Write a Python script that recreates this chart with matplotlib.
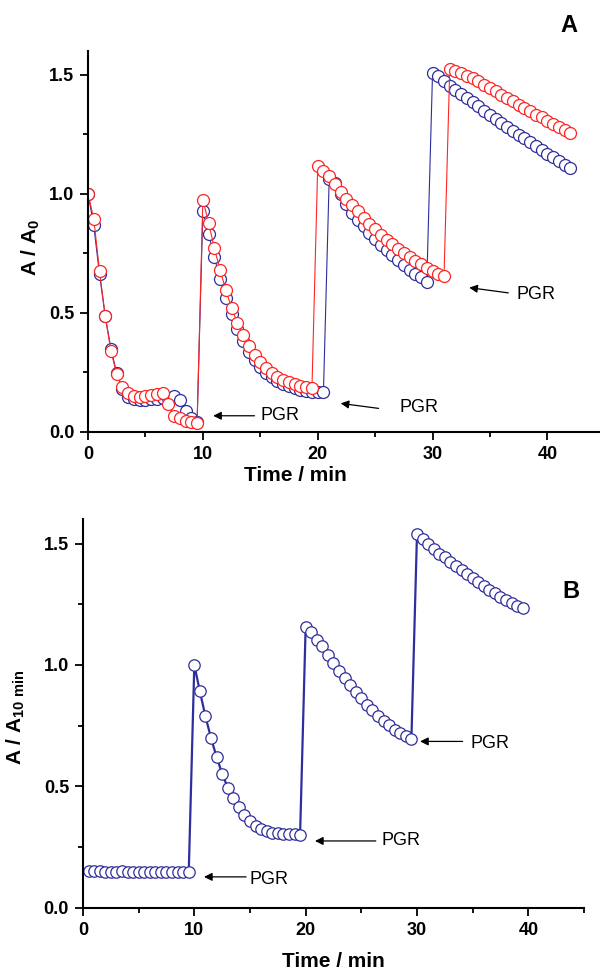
import matplotlib
matplotlib.use("Agg")
import matplotlib.pyplot as plt
from matplotlib.ticker import MultipleLocator, FormatStrFormatter

plt.rcParams['font.family'] = ['Liberation Sans', 'DejaVu Sans']
plt.rcParams['mathtext.fontset'] = 'custom'
plt.rcParams['mathtext.rm'] = 'Liberation Sans'
plt.rcParams['mathtext.bf'] = 'Liberation Sans:bold'
plt.rcParams['mathtext.it'] = 'Liberation Sans:italic'

# ---- panel A, red series ----
t_red = [0, 0.5, 1, 1.5, 2, 2.5, 3, 3.5, 4, 4.5, 5, 5.5, 6, 6.5, 7, 7.5, 8, 8.5, 9, 9.5,
         10, 10.5, 11, 11.5, 12, 12.5, 13, 13.5, 14, 14.5, 15, 15.5, 16, 16.5, 17, 17.5, 18, 18.5, 19, 19.5,
         20, 20.5, 21, 21.5, 22, 22.5, 23, 23.5, 24, 24.5, 25, 25.5, 26, 26.5, 27, 27.5, 28, 28.5,
         29, 29.5, 30, 30.5, 31,
         31.5, 32, 32.5, 33, 33.5, 34, 34.5, 35, 35.5, 36, 36.5, 37, 37.5, 38, 38.5, 39, 39.5,
         40, 40.5, 41, 41.5, 42]
a_red = [1.000, 0.894, 0.675, 0.485, 0.338, 0.242, 0.186, 0.161, 0.150, 0.147,
         0.150, 0.154, 0.158, 0.161, 0.115, 0.066, 0.056, 0.046, 0.042, 0.038,
         0.974, 0.878, 0.771, 0.680, 0.594, 0.521, 0.457, 0.405, 0.360, 0.324,
         0.293, 0.266, 0.247, 0.230, 0.217, 0.207, 0.200, 0.193, 0.186, 0.182,
         1.114, 1.094, 1.072, 1.041, 1.006, 0.978, 0.953, 0.925, 0.897, 0.873,
         0.850, 0.827, 0.806, 0.787, 0.767, 0.750, 0.733, 0.717, 0.703, 0.689,
         0.675, 0.664, 0.653,
         1.523, 1.516, 1.506, 1.495, 1.484, 1.471, 1.457, 1.443, 1.429, 1.415, 1.401,
         1.387, 1.373, 1.360, 1.345, 1.332, 1.320, 1.306, 1.293, 1.280, 1.268, 1.255]

# ---- panel A, blue series ----
t_blue = [0, 0.5, 1, 1.5, 2, 2.5, 3, 3.5, 4, 4.5, 5, 5.5, 6, 6.5, 7, 7.5, 8, 8.5, 9, 9.5,
          10, 10.5, 11, 11.5, 12, 12.5, 13, 13.5, 14, 14.5, 15, 15.5, 16, 16.5, 17, 17.5, 18, 18.5,
          19, 19.5, 20, 20.5,
          21, 21.5, 22, 22.5, 23, 23.5, 24, 24.5, 25, 25.5, 26, 26.5, 27, 27.5, 28, 28.5, 29, 29.5,
          30, 30.5, 31, 31.5, 32, 32.5, 33, 33.5, 34, 34.5, 35, 35.5, 36, 36.5, 37, 37.5, 38, 38.5,
          39, 39.5, 40, 40.5, 41, 41.5, 42]
a_blue = [1.000, 0.866, 0.661, 0.485, 0.347, 0.245, 0.180, 0.147, 0.136, 0.133,
          0.133, 0.136, 0.138, 0.140, 0.142, 0.148, 0.133, 0.088, 0.056, 0.042,
          0.926, 0.831, 0.733, 0.643, 0.562, 0.496, 0.433, 0.381, 0.335, 0.300,
          0.272, 0.247, 0.228, 0.212, 0.199, 0.190, 0.182, 0.176, 0.171, 0.167, 0.165, 0.165,
          1.060, 1.045, 1.000, 0.955, 0.918, 0.890, 0.862, 0.835, 0.810, 0.785,
          0.763, 0.741, 0.720, 0.700, 0.680, 0.664, 0.649, 0.630,
          1.506, 1.492, 1.474, 1.453, 1.435, 1.418, 1.401, 1.383, 1.366, 1.348,
          1.332, 1.313, 1.297, 1.281, 1.264, 1.248, 1.232, 1.215, 1.199, 1.183,
          1.167, 1.152, 1.137, 1.122, 1.108]

# ---- panel B ----
t_b = [0.5, 1, 1.5, 2, 2.5, 3, 3.5, 4, 4.5, 5, 5.5, 6, 6.5, 7, 7.5, 8, 8.5, 9, 9.5,
       10, 10.5, 11, 11.5, 12, 12.5, 13, 13.5, 14, 14.5, 15, 15.5, 16, 16.5, 17, 17.5, 18, 18.5, 19, 19.5,
       20, 20.5, 21, 21.5, 22, 22.5, 23, 23.5, 24, 24.5, 25, 25.5, 26, 26.5, 27, 27.5, 28, 28.5, 29, 29.5,
       30, 30.5, 31, 31.5, 32, 32.5, 33, 33.5, 34, 34.5, 35, 35.5, 36, 36.5, 37, 37.5, 38, 38.5, 39, 39.5]
a_b = [0.150, 0.150, 0.150, 0.149, 0.149, 0.149, 0.150, 0.149, 0.148, 0.148,
       0.148, 0.147, 0.147, 0.148, 0.147, 0.147, 0.147, 0.146, 0.146,
       1.000, 0.891, 0.788, 0.699, 0.621, 0.552, 0.495, 0.450, 0.413, 0.381,
       0.358, 0.337, 0.323, 0.315, 0.308, 0.306, 0.303, 0.302, 0.302, 0.299,
       1.158, 1.134, 1.103, 1.076, 1.043, 1.010, 0.977, 0.947, 0.918, 0.889,
       0.863, 0.837, 0.814, 0.791, 0.770, 0.751, 0.734, 0.718, 0.706, 0.695,
       1.538, 1.518, 1.498, 1.477, 1.459, 1.443, 1.426, 1.409, 1.391, 1.374,
       1.358, 1.343, 1.326, 1.310, 1.295, 1.281, 1.268, 1.254, 1.244, 1.235]

# PGR arrows: (tail x, tail y, head x, head y, text x, text y)
pgr_a = [(14.5, 0.067, 10.9, 0.067, 15.0, 0.070),
         (25.3, 0.098, 22.0, 0.119, 27.1, 0.102),
         (36.6, 0.583, 33.2, 0.605, 37.3, 0.577)]
pgr_b = [(14.65, 0.127, 10.87, 0.127, 15.0, 0.116),
         (26.3, 0.275, 20.84, 0.275, 26.84, 0.275),
         (34.1, 0.685, 30.28, 0.685, 34.8, 0.676)]

BLUE = '#2e2e9c'
RED = '#ff2424'


def style_axes(ax, xmax):
    for s in ['top', 'right']:
        ax.spines[s].set_visible(False)
    for s in ['left', 'bottom']:
        ax.spines[s].set_linewidth(1.5)
    ax.set_xlim(0, xmax)
    ax.set_ylim(0, 1.6)
    ax.xaxis.set_major_locator(MultipleLocator(10))
    ax.xaxis.set_minor_locator(MultipleLocator(5))
    ax.yaxis.set_major_locator(MultipleLocator(0.5))
    ax.yaxis.set_minor_locator(MultipleLocator(0.25))
    ax.tick_params(which='major', length=6, width=1.3, direction='out', labelsize=13, pad=4)
    ax.tick_params(which='minor', length=3.5, width=1.3, direction='out')
    for lab in ax.get_xticklabels() + ax.get_yticklabels():
        lab.set_fontweight('bold')
    ax.yaxis.set_major_formatter(FormatStrFormatter('%.1f'))
    ax.xaxis.set_major_formatter(FormatStrFormatter('%d'))


def add_pgr(ax, arrows):
    for tx, ty, hx, hy, lx, ly in arrows:
        ax.annotate('', xy=(hx, hy), xytext=(tx, ty),
                    arrowprops=dict(arrowstyle='-|>', color='black', lw=0.9,
                                    mutation_scale=12, shrinkA=0, shrinkB=0))
        ax.text(lx, ly, 'PGR', fontsize=13, ha='left', va='center')


fig = plt.figure(figsize=(6.0, 9.73), dpi=100)

# panel A
ax1 = fig.add_axes([0.1467, 0.5563, 0.8517, 0.3916])
ax1.plot(t_blue, a_blue, '-o', color=BLUE, lw=0.8, ms=8.6, mfc='white', mec=BLUE, mew=0.9)
ax1.plot(t_red, a_red, '-o', color=RED, lw=0.8, ms=8.6, mfc='white', mec=RED, mew=0.9)
style_axes(ax1, 44.5)
add_pgr(ax1, pgr_a)
ax1.set_xlabel('Time / min', fontsize=15, fontweight='bold')
ax1.set_ylabel(r'A / A$_\mathbf{0}$', fontsize=15, fontweight='bold')
ax1.xaxis.set_label_coords(0.405, -0.09)
ax1.yaxis.set_label_coords(-0.09, 0.485)

# panel B
ax2 = fig.add_axes([0.1383, 0.0671, 0.835, 0.3992])
ax2.plot(t_b, a_b, '-o', color=BLUE, lw=1.6, ms=8.2, mfc='white', mec=BLUE, mew=0.9)
style_axes(ax2, 45)
add_pgr(ax2, pgr_b)
ax2.set_xlabel('Time / min', fontsize=15, fontweight='bold')
ax2.set_ylabel(r'A / A$_\mathbf{10\ min}$', fontsize=15, fontweight='bold')
ax2.xaxis.set_label_coords(0.5, -0.115)
ax2.yaxis.set_label_coords(-0.112, 0.49)

fig.text(569 / 600, 1 - 25 / 973, 'A', fontsize=17, fontweight='bold', ha='center', va='center')
fig.text(571 / 600, 1 - 591 / 973, 'B', fontsize=17, fontweight='bold', ha='center', va='center')

fig.savefig('out.png', dpi=100)
